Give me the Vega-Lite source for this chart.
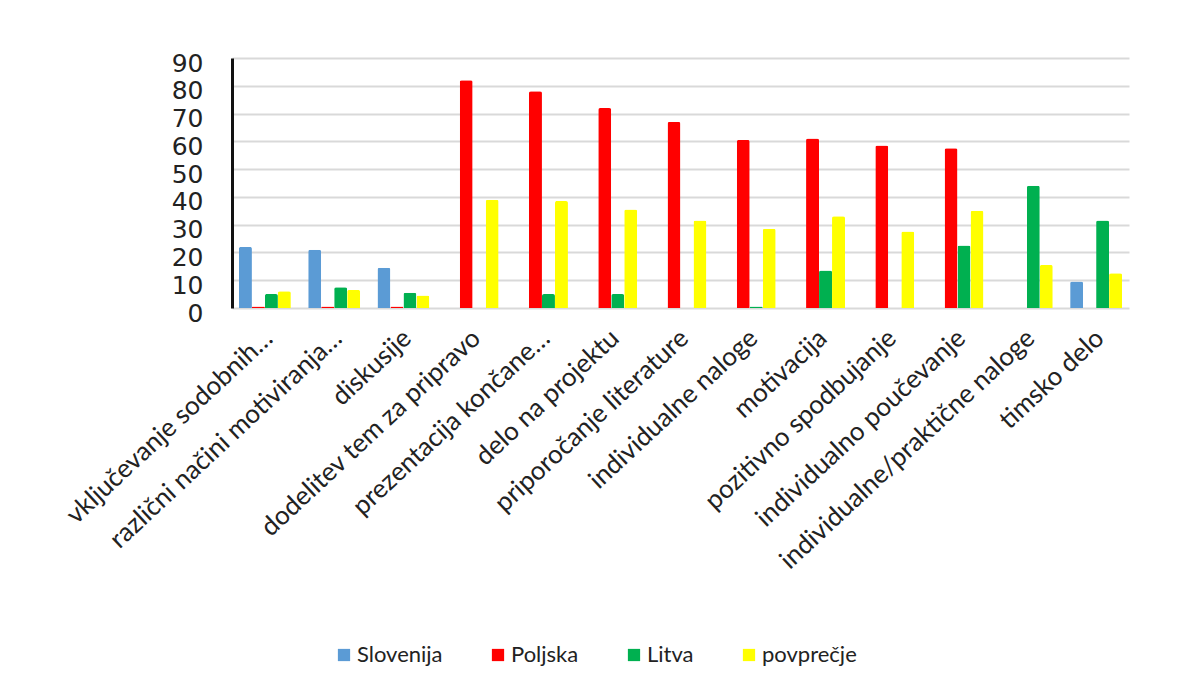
{
  "$schema": "https://vega.github.io/schema/vega-lite/v6.json",
  "autosize": {"type": "none"},
  "width": 897,
  "height": 250,
  "padding": {"left": 232, "top": 58, "right": 68, "bottom": 383},
  "background": "white",
  "config": {
    "view": {"stroke": null},
    "font": "Lato"
  },
  "datasets": {
    "metode": [
      {"metoda": "vključevanje sodobnih…", "drzava": "Slovenija", "delez": 22},
      {"metoda": "vključevanje sodobnih…", "drzava": "Poljska", "delez": 0.5},
      {"metoda": "vključevanje sodobnih…", "drzava": "Litva", "delez": 5},
      {"metoda": "vključevanje sodobnih…", "drzava": "povprečje", "delez": 6},
      {"metoda": "različni načini motiviranja…", "drzava": "Slovenija", "delez": 21},
      {"metoda": "različni načini motiviranja…", "drzava": "Poljska", "delez": 0.5},
      {"metoda": "različni načini motiviranja…", "drzava": "Litva", "delez": 7.5},
      {"metoda": "različni načini motiviranja…", "drzava": "povprečje", "delez": 6.5},
      {"metoda": "diskusije", "drzava": "Slovenija", "delez": 14.5},
      {"metoda": "diskusije", "drzava": "Poljska", "delez": 0.5},
      {"metoda": "diskusije", "drzava": "Litva", "delez": 5.5},
      {"metoda": "diskusije", "drzava": "povprečje", "delez": 4.5},
      {"metoda": "dodelitev tem za pripravo", "drzava": "Slovenija", "delez": 0},
      {"metoda": "dodelitev tem za pripravo", "drzava": "Poljska", "delez": 82},
      {"metoda": "dodelitev tem za pripravo", "drzava": "Litva", "delez": 0},
      {"metoda": "dodelitev tem za pripravo", "drzava": "povprečje", "delez": 39},
      {"metoda": "prezentacija končane…", "drzava": "Slovenija", "delez": 0},
      {"metoda": "prezentacija končane…", "drzava": "Poljska", "delez": 78},
      {"metoda": "prezentacija končane…", "drzava": "Litva", "delez": 5},
      {"metoda": "prezentacija končane…", "drzava": "povprečje", "delez": 38.5},
      {"metoda": "delo na projektu", "drzava": "Slovenija", "delez": 0},
      {"metoda": "delo na projektu", "drzava": "Poljska", "delez": 72},
      {"metoda": "delo na projektu", "drzava": "Litva", "delez": 5},
      {"metoda": "delo na projektu", "drzava": "povprečje", "delez": 35.5},
      {"metoda": "priporočanje literature", "drzava": "Slovenija", "delez": 0},
      {"metoda": "priporočanje literature", "drzava": "Poljska", "delez": 67},
      {"metoda": "priporočanje literature", "drzava": "Litva", "delez": 0},
      {"metoda": "priporočanje literature", "drzava": "povprečje", "delez": 31.5},
      {"metoda": "individualne naloge", "drzava": "Slovenija", "delez": 0},
      {"metoda": "individualne naloge", "drzava": "Poljska", "delez": 60.5},
      {"metoda": "individualne naloge", "drzava": "Litva", "delez": 0.5},
      {"metoda": "individualne naloge", "drzava": "povprečje", "delez": 28.5},
      {"metoda": "motivacija", "drzava": "Slovenija", "delez": 0},
      {"metoda": "motivacija", "drzava": "Poljska", "delez": 61},
      {"metoda": "motivacija", "drzava": "Litva", "delez": 13.5},
      {"metoda": "motivacija", "drzava": "povprečje", "delez": 33},
      {"metoda": "pozitivno spodbujanje", "drzava": "Slovenija", "delez": 0},
      {"metoda": "pozitivno spodbujanje", "drzava": "Poljska", "delez": 58.5},
      {"metoda": "pozitivno spodbujanje", "drzava": "Litva", "delez": 0},
      {"metoda": "pozitivno spodbujanje", "drzava": "povprečje", "delez": 27.5},
      {"metoda": "individualno poučevanje", "drzava": "Slovenija", "delez": 0},
      {"metoda": "individualno poučevanje", "drzava": "Poljska", "delez": 57.5},
      {"metoda": "individualno poučevanje", "drzava": "Litva", "delez": 22.5},
      {"metoda": "individualno poučevanje", "drzava": "povprečje", "delez": 35},
      {"metoda": "individualne/praktične naloge", "drzava": "Slovenija", "delez": 0},
      {"metoda": "individualne/praktične naloge", "drzava": "Poljska", "delez": 0},
      {"metoda": "individualne/praktične naloge", "drzava": "Litva", "delez": 44},
      {"metoda": "individualne/praktične naloge", "drzava": "povprečje", "delez": 15.5},
      {"metoda": "timsko delo", "drzava": "Slovenija", "delez": 9.5},
      {"metoda": "timsko delo", "drzava": "Poljska", "delez": 0},
      {"metoda": "timsko delo", "drzava": "Litva", "delez": 31.5},
      {"metoda": "timsko delo", "drzava": "povprečje", "delez": 12.5}
    ]
  },
  "data": {"name": "metode"},
  "mark": {"type": "bar", "cornerRadiusEnd": 2},
  "encoding": {
    "x": {
      "field": "metoda",
      "type": "nominal",
      "sort": null,
      "scale": {"paddingInner": 0.25, "paddingOuter": 0.1},
      "axis": {
        "title": null,
        "domain": false,
        "ticks": false,
        "labelAngle": -43,
        "labelAlign": "right",
        "labelBaseline": "middle",
        "labelFont": "Lato",
        "labelFontSize": 26,
        "labelColor": "#222222",
        "labelPadding": 26,
        "labelOffset": 4,
        "labelLimit": 500
      }
    },
    "xOffset": {
      "field": "drzava",
      "type": "nominal",
      "sort": ["Slovenija", "Poljska", "Litva", "povprečje"],
      "scale": {"paddingInner": 0}
    },
    "y": {
      "field": "delez",
      "type": "quantitative",
      "scale": {"domain": [0, 90], "nice": false},
      "axis": {
        "title": null,
        "values": [0, 10, 20, 30, 40, 50, 60, 70, 80, 90],
        "domain": true,
        "domainColor": "#111111",
        "domainWidth": 3,
        "ticks": false,
        "grid": true,
        "gridColor": "#d9d9d9",
        "gridWidth": 2,
        "labelFont": "DejaVu Sans",
        "labelFontSize": 25,
        "labelColor": "#222222",
        "labelPadding": 29,
        "labelOffset": 5
      }
    },
    "color": {
      "field": "drzava",
      "type": "nominal",
      "sort": ["Slovenija", "Poljska", "Litva", "povprečje"],
      "scale": {
        "domain": ["Slovenija", "Poljska", "Litva", "povprečje"],
        "range": ["#5b9bd5", "#ff0000", "#00b050", "#ffff00"]
      },
      "legend": {
        "title": null,
        "orient": "none",
        "direction": "horizontal",
        "legendX": 101,
        "legendY": 586,
        "symbolType": "square",
        "symbolSize": 150,
        "symbolStrokeWidth": 0,
        "labelFont": "Lato",
        "labelFontSize": 22,
        "labelColor": "#222222",
        "labelOffset": 2,
        "columnPadding": 44
      }
    }
  }
}
